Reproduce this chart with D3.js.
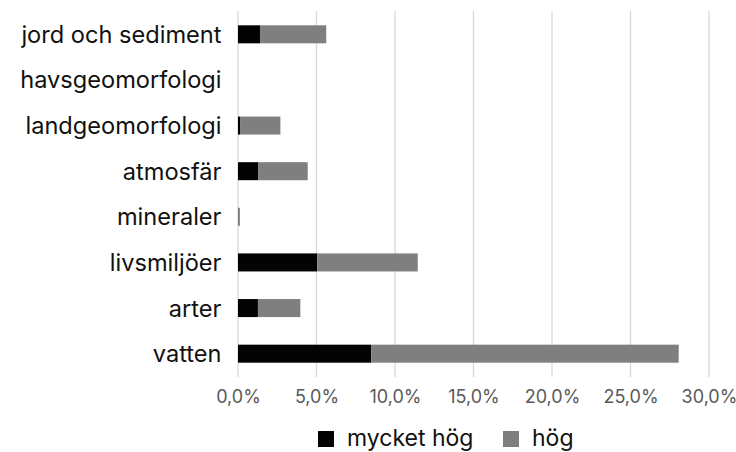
<!DOCTYPE html>
<html><head><meta charset="utf-8">
<script src="https://cdn.jsdelivr.net/npm/d3@7"></script>
<style>body{margin:0;background:#fff}svg{display:block;font-family:Inter,sans-serif}</style>
</head><body><svg id="c" width="736" height="452"></svg>
<script>
const categories = ["jord och sediment","havsgeomorfologi","landgeomorfologi","atmosfär","mineraler","livsmiljöer","arter","vatten"];
const mycketHog = [1.4, 0, 0.13, 1.3, 0, 5.05, 1.27, 8.49];
const hog = [4.22, 0, 2.57, 3.14, 0.12, 6.4, 2.7, 19.58];
const seriesNames = ["mycket hög","hög"];
const seriesColors = ["#030303","#7f7f7f"];
const xTicks = [0,5,10,15,20,25,30];

const svg = d3.select("#c");
const x = d3.scaleLinear().domain([0,30]).range([238,709]);
const y = d3.scaleBand().domain(categories).range([11.5,376.5]).paddingInner(0.605).paddingOuter(0.3025);

svg.append("g").selectAll("line").data(xTicks).join("line")
  .attr("x1",d=>x(d)).attr("x2",d=>x(d)).attr("y1",11).attr("y2",377)
  .attr("stroke","#d9d9d9").attr("stroke-width",1.3);

const stackData = categories.map((c,i)=>({cat:c, s0:mycketHog[i], s1:hog[i]}));
const stack = d3.stack().keys(["s0","s1"])(stackData);
svg.append("g").selectAll("g").data(stack).join("g")
  .attr("fill",(d,i)=>seriesColors[i])
  .selectAll("rect").data(d=>d).join("rect")
  .attr("x",d=>x(d[0])).attr("width",d=>Math.max(0,x(d[1])-x(d[0])))
  .attr("y",d=>y(d.data.cat)).attr("height",y.bandwidth());

const yAxis = svg.append("g").attr("transform","translate(238,0)").call(d3.axisLeft(y).tickSize(0).tickPadding(16.5));
yAxis.select(".domain").remove();
yAxis.selectAll("text").attr("font-size",23.6).attr("fill","#111").attr("font-family","Inter, sans-serif").attr("dy","0.36em");

const fmt = d=>d.toFixed(1).replace(".",",")+"%";
const xAxis = svg.append("g").attr("transform","translate(0,377)").call(d3.axisBottom(x).tickValues(xTicks).tickFormat(fmt).tickSize(0).tickPadding(13));
xAxis.select(".domain").remove();
xAxis.selectAll("text").attr("font-size",18).attr("fill","#595959").attr("font-family","Inter, sans-serif");

const leg = svg.append("g");
const legX = [318, 503];
seriesNames.forEach((n,i)=>{
  leg.append("rect").attr("x",legX[i]).attr("y",431).attr("width",16).attr("height",16).attr("fill",seriesColors[i]);
  leg.append("text").attr("x",legX[i]+29).attr("y",445.5).attr("font-size",23).attr("fill","#111").text(n);
});
</script></body></html>
